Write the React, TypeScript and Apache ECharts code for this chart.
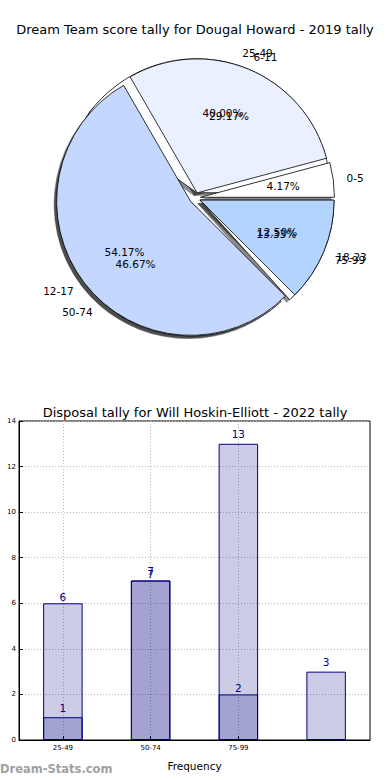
import React, { useEffect, useRef } from "react";
import * as echarts from "echarts";

// ---- data ----
const pieTitle = "Dream Team score tally for Dougal Howard - 2019 tally";
const scoreBins = ["0-5", "6-11", "12-17", "18-23"];
const scoreCounts = [1, 7, 13, 3];
const disposalBins = ["25-49", "50-74", "75-99"];
const disposalCounts = [6, 7, 2];

const barTitle = "Disposal tally for Will Hoskin-Elliott - 2022 tally";
const barCategories = ["25-49", "50-74", "75-99", ""];
const barSeriesA = [1, 7, 13, 3];
const barSeriesB = [6, 7, 2];
const yMin = 0;
const yMax = 14;
const yStep = 2;
const xAxisName = "Frequency";
const yAxisName = "Occurrences";
const watermark = "Dream-Stats.com";

// ---- styles ----
const scoreColors = ["#ffffff", "#eaf0ff", "#c4d8ff", "#b3d4ff"];
const disposalColors = ["#ffffff", "#ffffff", "#ffffff"];
const FONT = "DejaVu Sans";
const R = 134;
const CX = 195;
const CY = 198;
const EXPLODE = 5.5;

const sum = (a: number[]) => a.reduce((s, v) => s + v, 0);

function pieData(names: string[], values: number[], colors: string[] | null) {
  return names.map((n, i) => ({
    name: n,
    value: values[i],
    selected: true,
    itemStyle: { color: colors ? colors[i] : "transparent" },
  }));
}

const basePie = {
  type: "pie",
  startAngle: 0,
  clockwise: false,
  selectedMode: "multiple",
  selectedOffset: EXPLODE,
  silent: true,
  avoidLabelOverlap: false,
  labelLayout: { hideOverlap: false },
  emphasis: { disabled: true },
  animation: false,
};

function shadowSeries(names: string[], values: number[]) {
  return {
    ...basePie,
    center: [CX - 3, CY + 3],
    radius: R,
    data: pieData(names, values, names.map(() => "rgba(0,0,0,0.45)")),
    itemStyle: { borderWidth: 0 },
    label: { show: false },
    labelLine: { show: false },
  };
}

function wedgeSeries(names: string[], values: number[], colors: string[]) {
  return {
    ...basePie,
    center: [CX, CY],
    radius: R,
    data: pieData(names, values, colors),
    itemStyle: { borderColor: "#000", borderWidth: 0.8 },
    label: { show: false },
    labelLine: { show: false },
  };
}

function pctSeries(names: string[], values: number[]) {
  const total = sum(values);
  return {
    ...basePie,
    center: [CX, CY],
    radius: [0, R * 1.2],
    data: pieData(names, values, null),
    itemStyle: { borderWidth: 0, color: "transparent" },
    label: {
      show: true,
      position: "inside",
      fontFamily: FONT,
      fontSize: 10.5,
      color: "#000",
      formatter: (p: any) => ((p.value / total) * 100).toFixed(2) + "%",
    },
    labelLine: { show: false },
  };
}

function nameSeries(names: string[], values: number[]) {
  return {
    ...basePie,
    center: [CX, CY],
    radius: R,
    data: pieData(names, values, null),
    itemStyle: { borderWidth: 0, color: "transparent" },
    label: {
      show: true,
      position: "outside",
      fontFamily: FONT,
      fontSize: 10.5,
      color: "#000",
      distanceToLabelLine: 0,
      formatter: "{b}",
    },
    labelLine: { show: false, length: R * 0.1, length2: 0 },
  };
}

export default function App() {
  const ref = useRef<HTMLDivElement>(null);
  useEffect(() => {
    document.body.style.margin = "0";
    const chart = echarts.init(ref.current!, null, { renderer: "svg" });
    const option: any = {
      animation: false,
      backgroundColor: "#fff",
      textStyle: { fontFamily: FONT },
      title: [
        {
          text: pieTitle,
          left: "center",
          top: 23,
          padding: 0,
          textStyle: { fontFamily: FONT, fontSize: 13, fontWeight: "normal", color: "#000" },
        },
        {
          text: barTitle,
          left: "center",
          top: 406,
          padding: 0,
          textStyle: { fontFamily: FONT, fontSize: 13, fontWeight: "normal", color: "#000" },
        },
      ],
      graphic: [
        {
          type: "text",
          left: 0,
          top: 763,
          style: {
            text: watermark,
            fontFamily: FONT,
            fontSize: 11.5,
            fontWeight: "bold",
            fill: "#a0a0a0",
          },
        },
      ],
      grid: {
        left: 19,
        top: 421,
        width: 351,
        height: 319,
        outerBoundsMode: "none",
        containLabel: false,
        show: true,
        borderColor: "#000",
        borderWidth: 1,
        backgroundColor: "transparent",
      },
      xAxis: {
        type: "category",
        data: barCategories,
        name: xAxisName,
        nameLocation: "middle",
        nameGap: 20,
        nameTextStyle: { fontFamily: FONT, fontSize: 10.5, color: "#000" },
        axisLine: { show: true, lineStyle: { color: "#000" } },
        axisTick: {
          show: true,
          inside: true,
          alignWithLabel: true,
          length: 4,
          lineStyle: { color: "#000" },
          interval: (i: number, v: string) => v !== "",
        },
        axisLabel: { fontFamily: FONT, fontSize: 7, color: "#000", margin: 4 },
        splitLine: {
          show: true,
          alignWithLabel: true,
          interval: (i: number, v: string) => v !== "",
          lineStyle: { color: "#b8b8b8", type: [1, 2], width: 1 },
        },
      },
      yAxis: {
        type: "value",
        min: yMin,
        max: yMax,
        interval: yStep,
        name: yAxisName,
        nameLocation: "middle",
        nameGap: 21,
        nameTextStyle: { fontFamily: FONT, fontSize: 9, color: "#000" },
        axisLine: { show: true, lineStyle: { color: "#000" } },
        axisTick: { show: true, inside: true, length: 4, lineStyle: { color: "#000" } },
        axisLabel: { fontFamily: FONT, fontSize: 7, color: "#000", margin: 3 },
        splitLine: { show: true, lineStyle: { color: "#b8b8b8", type: [1, 2], width: 1 } },
      },
      series: [
        shadowSeries(disposalBins, disposalCounts),
        shadowSeries(scoreBins, scoreCounts),
        wedgeSeries(disposalBins, disposalCounts, disposalColors),
        wedgeSeries(scoreBins, scoreCounts, scoreColors),
        pctSeries(disposalBins, disposalCounts),
        pctSeries(scoreBins, scoreCounts),
        nameSeries(disposalBins, disposalCounts),
        nameSeries(scoreBins, scoreCounts),
        {
          type: "bar",
          data: barSeriesA,
          barWidth: "45%",
          barGap: "-100%",
          itemStyle: { color: "rgba(0,0,128,0.2)", borderColor: "#000080", borderWidth: 1 },
          label: {
            show: true,
            position: "top",
            distance: 4,
            fontFamily: FONT,
            fontSize: 10.5,
            color: "#000080",
          },
          labelLayout: { hideOverlap: false },
          emphasis: { disabled: true },
        },
        {
          type: "bar",
          data: barSeriesB,
          barWidth: "45%",
          barGap: "-100%",
          itemStyle: { color: "rgba(0,0,128,0.2)", borderColor: "#000080", borderWidth: 1 },
          label: {
            show: true,
            position: "top",
            distance: 1,
            fontFamily: FONT,
            fontSize: 10.5,
            color: "#000080",
          },
          labelLayout: { hideOverlap: false },
          emphasis: { disabled: true },
        },
      ],
    };
    chart.setOption(option);
    return () => chart.dispose();
  }, []);
  return <div ref={ref} style={{ width: 390, height: 780 }} />;
}
